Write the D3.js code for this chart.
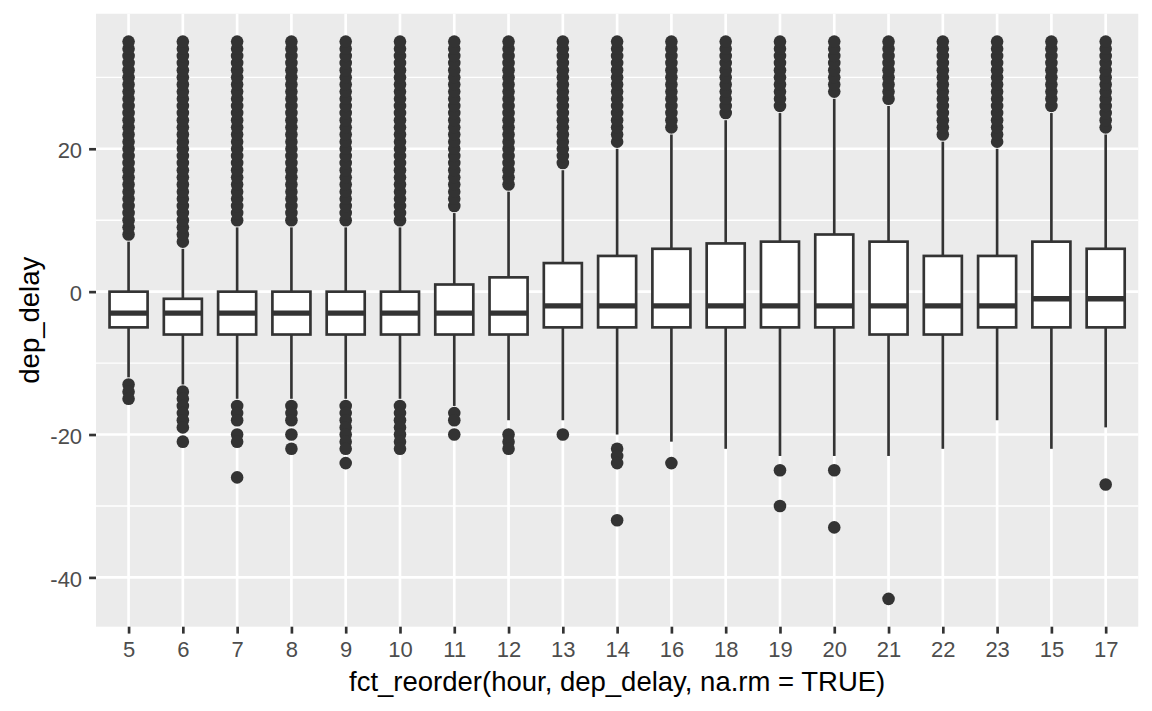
<!DOCTYPE html>
<html>
<head>
<meta charset="utf-8">
<script src="https://cdn.jsdelivr.net/npm/d3@7"></script>
<style>
  html, body { margin: 0; padding: 0; background: #fff; }
  svg { display: block; font-family: "Liberation Sans", Arial, sans-serif; }
</style>
</head>
<body>
<div id="chart"></div>
<script>
// hour categories, in the fct_reorder order shown on the x axis
const hours = ["5", "6", "7", "8", "9", "10", "11", "12", "13", "14", "16", "18", "19", "20", "21", "22", "23", "15", "17"];

// box statistics per hour (dep_delay, minutes)
const q1 = [-5, -6, -6, -6, -6, -6, -6, -6, -5, -5, -5, -5, -5, -5, -6, -6, -5, -5, -5];
const medians = [-3, -3, -3, -3, -3, -3, -3, -3, -2, -2, -2, -2, -2, -2, -2, -2, -2, -1, -1];
const q3 = [0, -1, 0, 0, 0, 0, 1, 2, 4, 5, 6, 6.75, 7, 8, 7, 5, 5, 7, 6];
const whiskerLow = [-12, -13, -15, -15, -15, -15, -16, -18, -18, -20, -21, -22, -23, -23, -23, -22, -18, -22, -19];
const whiskerHigh = [7, 6, 9, 9, 9, 9, 11, 14, 17, 20, 22, 24, 25, 27, 26, 21, 20, 25, 22];

// outliers below the lower whisker
const outliersLow = [
  [-13, -14, -15],
  [-14, -15, -16, -17, -18, -19, -21],
  [-16, -17, -18, -20, -21, -26],
  [-16, -17, -18, -20, -22],
  [-16, -17, -18, -19, -20, -21, -22, -24],
  [-16, -17, -18, -19, -20, -21, -22],
  [-17, -18, -20],
  [-20, -21, -22],
  [-20],
  [-22, -23, -24, -32],
  [-24],
  [],
  [-25, -30],
  [-25, -33],
  [-43],
  [],
  [],
  [],
  [-27],
];

// outliers above the upper whisker (every minute up to 35)
const outliersHigh = [
  [8, 9, 10, 11, 12, 13, 14, 15, 16, 17, 18, 19, 20, 21, 22, 23, 24, 25, 26, 27, 28, 29, 30, 31, 32, 33, 34, 35],
  [7, 8, 9, 10, 11, 12, 13, 14, 15, 16, 17, 18, 19, 20, 21, 22, 23, 24, 25, 26, 27, 28, 29, 30, 31, 32, 33, 34, 35],
  [10, 11, 12, 13, 14, 15, 16, 17, 18, 19, 20, 21, 22, 23, 24, 25, 26, 27, 28, 29, 30, 31, 32, 33, 34, 35],
  [10, 11, 12, 13, 14, 15, 16, 17, 18, 19, 20, 21, 22, 23, 24, 25, 26, 27, 28, 29, 30, 31, 32, 33, 34, 35],
  [10, 11, 12, 13, 14, 15, 16, 17, 18, 19, 20, 21, 22, 23, 24, 25, 26, 27, 28, 29, 30, 31, 32, 33, 34, 35],
  [10, 11, 12, 13, 14, 15, 16, 17, 18, 19, 20, 21, 22, 23, 24, 25, 26, 27, 28, 29, 30, 31, 32, 33, 34, 35],
  [12, 13, 14, 15, 16, 17, 18, 19, 20, 21, 22, 23, 24, 25, 26, 27, 28, 29, 30, 31, 32, 33, 34, 35],
  [15, 16, 17, 18, 19, 20, 21, 22, 23, 24, 25, 26, 27, 28, 29, 30, 31, 32, 33, 34, 35],
  [18, 19, 20, 21, 22, 23, 24, 25, 26, 27, 28, 29, 30, 31, 32, 33, 34, 35],
  [21, 22, 23, 24, 25, 26, 27, 28, 29, 30, 31, 32, 33, 34, 35],
  [23, 24, 25, 26, 27, 28, 29, 30, 31, 32, 33, 34, 35],
  [25, 26, 27, 28, 29, 30, 31, 32, 33, 34, 35],
  [26, 27, 28, 29, 30, 31, 32, 33, 34, 35],
  [28, 29, 30, 31, 32, 33, 34, 35],
  [27, 28, 29, 30, 31, 32, 33, 34, 35],
  [22, 23, 24, 25, 26, 27, 28, 29, 30, 31, 32, 33, 34, 35],
  [21, 22, 23, 24, 25, 26, 27, 28, 29, 30, 31, 32, 33, 34, 35],
  [26, 27, 28, 29, 30, 31, 32, 33, 34, 35],
  [23, 24, 25, 26, 27, 28, 29, 30, 31, 32, 33, 34, 35],
];

const yTicks = [-40, -20, 0, 20];
const yMinorTicks = [-30, -10, 10, 30];
const xTitle = "fct_reorder(hour, dep_delay, na.rm = TRUE)";
const yTitle = "dep_delay";

const width = 1152;
const height = 711;
const margin = { top: 13.75, right: 13.75, bottom: 84.3, left: 96 };
const lw = 2.67; // 0.5 mm line at this resolution
const grey20 = "#333333";

const svg = d3.select("#chart")
  .append("svg")
  .attr("width", width)
  .attr("height", height);

const panelW = width - margin.left - margin.right;
const panelH = height - margin.top - margin.bottom;

// continuous y with ggplot's 5% expansion
const yMin = d3.min(outliersLow.flat().concat(whiskerLow));
const yMax = d3.max(outliersHigh.flat().concat(whiskerHigh));
const pad = (yMax - yMin) * 0.05;
const y = d3.scaleLinear()
  .domain([yMin - pad, yMax + pad])
  .range([margin.top + panelH, margin.top]);

// discrete x with 0.6 expansion on each side
const x = d3.scalePoint()
  .domain(hours)
  .range([margin.left, margin.left + panelW])
  .padding(0.6);
const boxW = x.step() * 0.75;

// Panel background and grid
svg.append("rect")
  .attr("x", margin.left)
  .attr("y", margin.top)
  .attr("width", panelW)
  .attr("height", panelH)
  .attr("fill", "#EBEBEB");

const grid = svg.append("g").attr("class", "grid");
grid.selectAll("line.minor")
  .data(yMinorTicks)
  .join("line")
  .attr("class", "minor")
  .attr("x1", margin.left)
  .attr("x2", margin.left + panelW)
  .attr("y1", (d) => y(d))
  .attr("y2", (d) => y(d))
  .attr("stroke", "#fff")
  .attr("stroke-width", lw / 2);
grid.selectAll("line.major-y")
  .data(yTicks)
  .join("line")
  .attr("class", "major-y")
  .attr("x1", margin.left)
  .attr("x2", margin.left + panelW)
  .attr("y1", (d) => y(d))
  .attr("y2", (d) => y(d))
  .attr("stroke", "#fff")
  .attr("stroke-width", lw);
grid.selectAll("line.major-x")
  .data(hours)
  .join("line")
  .attr("class", "major-x")
  .attr("x1", (d) => x(d))
  .attr("x2", (d) => x(d))
  .attr("y1", margin.top)
  .attr("y2", margin.top + panelH)
  .attr("stroke", "#fff")
  .attr("stroke-width", lw);

// Boxplots
const boxes = hours.map((h, i) => ({
  hour: h,
  q1: q1[i],
  median: medians[i],
  q3: q3[i],
  lo: whiskerLow[i],
  hi: whiskerHigh[i],
  outliers: outliersLow[i].concat(outliersHigh[i]),
}));

const g = svg.append("g").attr("class", "boxes");
const box = g.selectAll("g.box")
  .data(boxes)
  .join("g")
  .attr("class", "box");

box.append("line")
  .attr("x1", (d) => x(d.hour))
  .attr("x2", (d) => x(d.hour))
  .attr("y1", (d) => y(d.hi))
  .attr("y2", (d) => y(d.q3))
  .attr("stroke", grey20)
  .attr("stroke-width", lw);
box.append("line")
  .attr("x1", (d) => x(d.hour))
  .attr("x2", (d) => x(d.hour))
  .attr("y1", (d) => y(d.q1))
  .attr("y2", (d) => y(d.lo))
  .attr("stroke", grey20)
  .attr("stroke-width", lw);

box.selectAll("circle")
  .data((d) => d.outliers.map((v) => ({ hour: d.hour, v })))
  .join("circle")
  .attr("cx", (d) => x(d.hour))
  .attr("cy", (d) => y(d.v))
  .attr("r", 6.3)
  .attr("fill", grey20);

box.append("rect")
  .attr("x", (d) => x(d.hour) - boxW / 2 + lw / 2)
  .attr("y", (d) => y(d.q3))
  .attr("width", boxW - lw)
  .attr("height", (d) => y(d.q1) - y(d.q3))
  .attr("fill", "#fff")
  .attr("stroke", grey20)
  .attr("stroke-width", lw);
box.append("line")
  .attr("x1", (d) => x(d.hour) - boxW / 2 + lw / 2)
  .attr("x2", (d) => x(d.hour) + boxW / 2 - lw / 2)
  .attr("y1", (d) => y(d.median))
  .attr("y2", (d) => y(d.median))
  .attr("stroke", grey20)
  .attr("stroke-width", lw * 2);

// Axes (plain hyphen minus, as R prints it)
const yAxis = svg.append("g")
  .attr("transform", `translate(${margin.left},0)`)
  .call(d3.axisLeft(y).tickValues(yTicks).tickFormat((d) => String(d)).tickSize(6.9).tickPadding(7));
const xAxis = svg.append("g")
  .attr("transform", `translate(0,${margin.top + panelH})`)
  .call(d3.axisBottom(x).tickSize(6.9));

[yAxis, xAxis].forEach((ax) => {
  ax.select(".domain").remove();
  ax.selectAll(".tick line").attr("stroke", grey20).attr("stroke-width", lw);
  ax.selectAll(".tick text")
    .attr("fill", "#4D4D4D")
    .attr("font-size", 22)
    .attr("font-family", "Liberation Sans, Arial, sans-serif");
});
yAxis.selectAll(".tick text").attr("dy", null).attr("y", 9.2);
xAxis.selectAll(".tick text").attr("dy", null).attr("y", 30.3);

svg.append("text")
  .attr("x", margin.left + panelW / 2)
  .attr("y", 691)
  .attr("text-anchor", "middle")
  .attr("font-size", 27.5)
  .attr("fill", "#000")
  .text(xTitle);

svg.append("text")
  .attr("transform", `translate(39,${margin.top + panelH / 2}) rotate(-90)`)
  .attr("text-anchor", "middle")
  .attr("font-size", 27.5)
  .attr("fill", "#000")
  .text(yTitle);
</script>
</body>
</html>
